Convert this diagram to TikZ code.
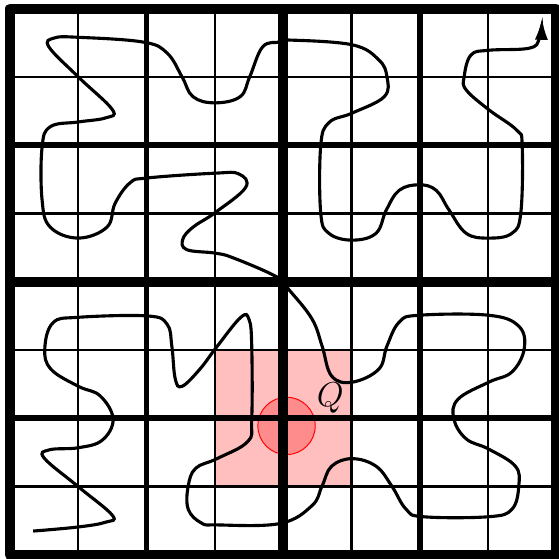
\documentclass[tikz,border=0pt]{standalone}
\usetikzlibrary{arrows.meta}
\begin{document}
\begin{tikzpicture}[x=1cm, y=1cm,
  fine/.style={line width=1pt},
  mid/.style={line width=2.4pt},
  heavy/.style={line width=4.2pt, line join=round},
  walk/.style={line width=1.3pt, -{Latex[length=9pt, width=5.5pt]}}]
\useasboundingbox (-0.146,-0.059) rectangle (8.038,8.126);
% query cell and disc
\fill[red!25] (3,1) rectangle (5,3);
\filldraw[fill=red!45, draw=red, line width=0.4pt] (4.05,1.89) circle (0.42);
% grid levels
\draw[fine] (1,0)--(1,8) (3,0)--(3,8) (5,0)--(5,8) (7,0)--(7,8);
\draw[fine] (0,1)--(8,1) (0,3)--(8,3) (0,5)--(8,5) (0,7)--(8,7);
\draw[mid] (2,0)--(2,8) (6,0)--(6,8) (0,2)--(8,2) (0,6)--(8,6);
\draw[heavy] (4,0)--(4,8) (0,4)--(8,4);
\draw[heavy] (0,0) rectangle (8,8);
% the walk
\draw[walk] plot[smooth, tension=0.65] coordinates {
  (0.34,0.35) (1.00,0.41) (1.40,0.48) (1.50,0.58) (1.00,1.00) (0.50,1.42) (0.58,1.54)
  (1.00,1.57) (1.35,1.68) (1.51,1.99) (1.32,2.33) (1.00,2.47) (0.60,2.72) (0.51,3.02)
  (0.63,3.40) (1.00,3.48) (2.01,3.50) (2.30,3.38) (2.37,3.06) (2.42,2.58) (2.52,2.47)
  (2.78,2.72) (3.03,3.05) (3.38,3.48) (3.50,3.45) (3.54,3.06) (3.54,1.99) (3.48,1.66)
  (3.03,1.41) (2.72,1.27) (2.61,1.01) (2.61,0.67) (2.80,0.47) (3.03,0.44) (3.95,0.46)
  (4.42,0.72) (4.57,1.01) (4.71,1.30) (5.01,1.41) (5.36,1.30) (5.59,1.01) (5.80,0.67)
  (6.05,0.56) (7.01,0.56) (7.35,0.67) (7.45,1.01) (7.40,1.30) (7.01,1.55) (6.68,1.70)
  (6.50,1.99) (6.56,2.28) (7.01,2.53) (7.35,2.68) (7.53,3.02) (7.45,3.35) (7.01,3.51)
  (5.99,3.51) (5.70,3.41) (5.52,3.06) (5.40,2.72) (5.01,2.53) (4.71,2.62) (4.57,3.06)
  (4.42,3.46) (4.08,3.89) (3.91,4.07) (3.27,4.35) (3.00,4.42) (2.59,4.47) (2.53,4.62)
  (2.68,4.80) (3.00,5.01) (3.45,5.38) (3.35,5.58) (3.00,5.59) (2.01,5.52) (1.76,5.45)
  (1.54,5.15) (1.42,4.80) (1.00,4.64) (0.59,4.80) (0.47,5.20) (0.47,5.97) (0.59,6.27)
  (1.00,6.34) (1.40,6.40) (1.50,6.52) (1.00,7.00) (0.57,7.44) (0.65,7.57) (1.00,7.58)
  (1.95,7.51) (2.30,7.35) (2.52,7.00) (2.68,6.71) (3.00,6.62) (3.37,6.71) (3.51,7.00)
  (3.70,7.44) (3.95,7.51) (4.08,7.54) (5.01,7.47) (5.40,7.25) (5.52,7.00) (5.48,6.71)
  (5.01,6.47) (4.67,6.33) (4.55,5.99) (4.55,5.01) (4.67,4.71) (5.01,4.61) (5.36,4.71)
  (5.51,5.05) (5.70,5.34) (5.99,5.42) (6.24,5.34) (6.43,5.05) (6.68,4.71) (7.01,4.64)
  (7.35,4.71) (7.48,5.01) (7.50,5.99) (7.42,6.22) (7.01,6.52) (6.68,6.81) (6.65,7.00)
  (6.75,7.32) (7.01,7.39) (7.60,7.42) (7.75,7.56) (7.79,7.86)};
\node[font=\Large] (q) at (4.69,2.30) {$Q$};
\end{tikzpicture}
\end{document}
